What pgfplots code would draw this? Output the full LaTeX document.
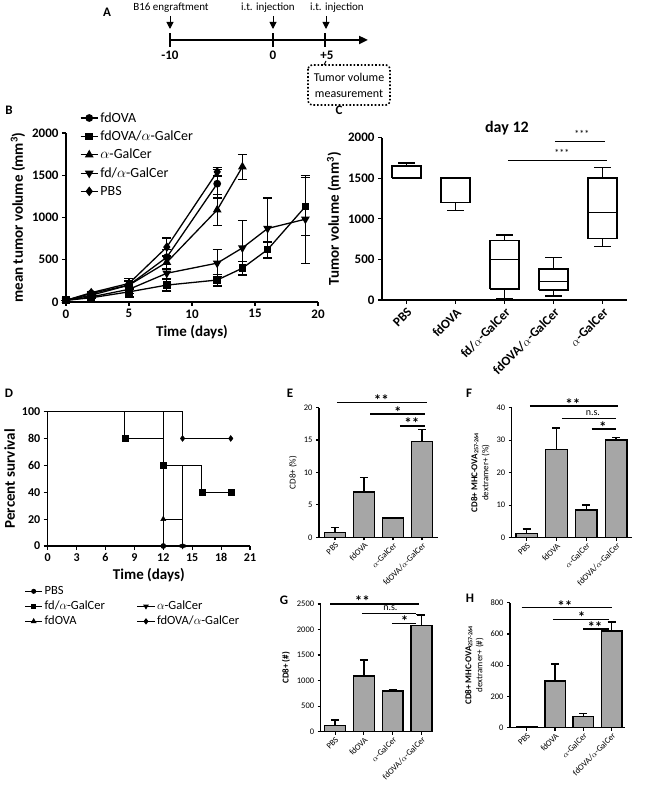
\documentclass[border=0pt]{standalone}
\usepackage{fontspec}
\setmainfont{Carlito}
\usepackage{pgfplots}
\pgfplotsset{compat=1.18}
\usetikzlibrary{arrows.meta}
\definecolor{bargray}{RGB}{166,166,166}
\newcommand{\ag}{\ensuremath{\alpha}-GalCer}
\tikzset{sig/.style={line width=1.4pt},
  star/.style={font=\bfseries\fontsize{15}{15}\selectfont, yshift=-2.5pt, inner sep=0pt}}

\pgfplotsset{
  gp/.style={
    scale only axis, clip=false,
    axis x line=bottom, axis y line=left,
    axis line style={-, line width=1.4pt},
    tick align=outside, major tick length=4pt,
    every tick/.append style={line width=1.2pt, black},
    /pgf/number format/assume math mode=true,
    /pgf/number format/1000 sep={},
    tick label style={font=\bfseries\fontsize{13}{13}\selectfont},
    label style={font=\bfseries\fontsize{15}{17}\selectfont},
  },
  barax/.style={
    gp, major tick length=3pt,
    axis line style={-, line width=1.2pt},
    tick label style={font=\fontsize{8.5}{8.5}\selectfont},
    xtick={1,2,3,4},
    xticklabels={PBS,fdOVA,\ag,fdOVA/\ag},
    x tick label style={rotate=45, anchor=north east, inner sep=1pt},
    ylabel style={font=\fontsize{9}{11}\selectfont, align=center},
    ymin=0,
  },
  bars/.style={ybar, bar width=0.72, fill=bargray, draw=black, line width=1.4pt,
    error bars/.cd, y dir=plus, y explicit,
    error bar style={line width=1.4pt},
    error mark options={rotate=90, mark size=4pt, line width=1.4pt}},
  berr/.style={error bars/.cd, y dir=both, y explicit,
    error bar style={line width=1.2pt},
    error mark options={rotate=90, mark size=4.5pt, line width=1.2pt}},
  bp/.style={draw=black, line width=1.6pt, line join=miter, mark=none},
}

\begin{document}
\begin{tikzpicture}[x=1pt,y=1pt]
\path[use as bounding box] (0,0) rectangle (648,798);

% ---------------- Panel A (timeline) ----------------
\node[font=\bfseries\fontsize{13}{13}\selectfont] at (107,786) {A};
\draw[line width=2.2pt, -{Triangle[length=9pt,width=8pt]}] (170,758) -- (368,758);
\foreach \xx in {170,273,325} {\draw[line width=1.5pt] (\xx,751) -- (\xx,765);}
\foreach \xx in {170,273,326} {\draw[line width=1pt, -{Triangle[length=7pt,width=7pt]}] (\xx,782) -- (\xx,769);}
\node[font=\bfseries\fontsize{13}{13}\selectfont] at (170,743) {-10};
\node[font=\bfseries\fontsize{13}{13}\selectfont] at (273,743) {0};
\node[font=\bfseries\fontsize{13}{13}\selectfont] at (327,743) {+5};
\node[font=\fontsize{11}{11}\selectfont] at (171,790) {B16 engraftment};
\node[font=\fontsize{11}{11}\selectfont] at (268,790) {i.t. injection};
\node[font=\fontsize{11}{11}\selectfont] at (337,790) {i.t. injection};
\draw[line width=1pt] (326,737) -- (324,733);
\draw[dotted, line width=1.6pt, rounded corners=4pt] (308,733) rectangle (390,693);
\node[align=center, font=\fontsize{12}{16}\selectfont] at (349,713) {Tumor volume\\measurement};

% ---------------- Panel labels ----------------
\node[font=\bfseries\fontsize{13}{13}\selectfont] at (9,688) {B};
\node[font=\bfseries\fontsize{13}{13}\selectfont] at (339,688) {C};
\node[font=\bfseries\fontsize{13}{13}\selectfont] at (9,405) {D};
\node[font=\bfseries\fontsize{13}{13}\selectfont] at (290,405) {E};
\node[font=\bfseries\fontsize{13}{13}\selectfont] at (469,405) {F};
\node[font=\bfseries\fontsize{13}{13}\selectfont] at (284,198) {G};
\node[font=\bfseries\fontsize{13}{13}\selectfont] at (470,200) {H};

% ---------------- Panel B ----------------
\begin{axis}[gp, at={(66pt,496pt)}, anchor=south west, width=252pt, height=169pt,
  xmin=0, xmax=20, ymin=0, ymax=2000,
  xtick={0,5,10,15,20}, ytick={0,500,1000,1500,2000},
  xlabel={Time (days)}, ylabel={mean tumor volume (mm\textsuperscript{3})},
  legend style={at={(0.055,1.135)}, anchor=north west, draw=none, fill=none,
    font=\fontsize{14}{14}\selectfont, row sep=3.2pt, inner sep=0pt},
  legend cell align=left]
\addplot[black, line width=1.3pt, mark=*, mark size=3.2pt, mark options={solid,fill=black}, berr]
  coordinates {(0,20)+-(0,0) (2,100)+-(0,15) (5,200)+-(0,50) (8,530)+-(0,90) (12,1400)+-(0,170)};
\addlegendentry{fdOVA}
\addplot[black, line width=1.3pt, mark=square*, mark size=3.2pt, mark options={solid,fill=black}, berr]
  coordinates {(0,20)+-(0,0) (2,50)+-(0,10) (5,120)+-(0,60) (8,200)+-(0,70) (12,260)+-(0,70) (14,400)+-(0,80) (16,620)+-(0,90) (19,1130)+-(0,340)};
\addlegendentry{fdOVA/\ag}
\addplot[black, line width=1.3pt, mark=triangle*, mark size=3.8pt, mark options={solid,fill=black}, berr]
  coordinates {(0,20)+-(0,0) (2,80)+-(0,10) (5,200)+-(0,40) (8,470)+-(0,80) (12,1090)+-(0,185) (14,1600)+-(0,150)};
\addlegendentry{\ag}
\addplot[black, line width=1.3pt, mark=triangle*, mark size=3.8pt, mark options={solid,fill=black,rotate=180}, berr]
  coordinates {(0,20)+-(0,0) (2,60)+-(0,10) (5,150)+-(0,50) (8,340)+-(0,60) (12,460)+-(0,160) (14,640)+-(0,320) (16,870)+-(0,360) (19,980)+-(0,520)};
\addlegendentry{fd/\ag}
\addplot[black, line width=1.3pt, mark=diamond*, mark size=3.8pt, mark options={solid,fill=black}, berr]
  coordinates {(0,20)+-(0,0) (2,110)+-(0,15) (5,220)+-(0,60) (8,650)+-(0,107) (12,1540)+-(0,50)};
\addlegendentry{PBS}
\end{axis}

% ---------------- Panel C ----------------
\begin{axis}[gp, at={(382pt,498pt)}, anchor=south west, width=245pt, height=162.3pt,
  xmin=0.5, xmax=5.5, ymin=0, ymax=2000,
  xtick={1,2,3,4,5}, ytick={0,500,1000,1500,2000},
  xticklabels={PBS,fdOVA,fd/\ag,fdOVA/\ag,\ag},
  x tick label style={rotate=45, anchor=north east, inner sep=2pt},
  ylabel={Tumor volume (mm\textsuperscript{3})}]
% PBS: lw 1500, q1 1500, med 1500, q3 1650, uw 1690
\addplot[bp] coordinates {(0.71,1500) (1.29,1500) (1.29,1650) (0.71,1650) (0.71,1500)};
\addplot[bp] coordinates {(1,1650) (1,1690)};
\addplot[bp] coordinates {(0.83,1690) (1.17,1690)};
% fdOVA: lw 1105, q1 1200, med 1500, q3 1505
\addplot[bp] coordinates {(1.71,1200) (2.29,1200) (2.29,1505) (1.71,1505) (1.71,1200)};
\addplot[bp] coordinates {(2,1200) (2,1105)};
\addplot[bp] coordinates {(1.83,1105) (2.17,1105)};
% fd/aGalCer: 16, 136, 501, 731, 801
\addplot[bp] coordinates {(2.71,136) (3.29,136) (3.29,731) (2.71,731) (2.71,136)};
\addplot[bp] coordinates {(2.71,501) (3.29,501)};
\addplot[bp] coordinates {(3,731) (3,801)};
\addplot[bp] coordinates {(2.83,801) (3.17,801)};
\addplot[bp] coordinates {(3,136) (3,16)};
\addplot[bp] coordinates {(2.83,16) (3.17,16)};
% fdOVA/aGalCer: 49, 123, 226, 382, 526
\addplot[bp] coordinates {(3.71,123) (4.29,123) (4.29,382) (3.71,382) (3.71,123)};
\addplot[bp] coordinates {(3.71,226) (4.29,226)};
\addplot[bp] coordinates {(4,382) (4,526)};
\addplot[bp] coordinates {(3.83,526) (4.17,526)};
\addplot[bp] coordinates {(4,123) (4,49)};
\addplot[bp] coordinates {(3.83,49) (4.17,49)};
% aGalCer: 657, 756, 1080, 1507, 1634
\addplot[bp] coordinates {(4.71,756) (5.29,756) (5.29,1507) (4.71,1507) (4.71,756)};
\addplot[bp] coordinates {(4.71,1080) (5.29,1080)};
\addplot[bp] coordinates {(5,1507) (5,1634)};
\addplot[bp] coordinates {(4.83,1634) (5.17,1634)};
\addplot[bp] coordinates {(5,756) (5,657)};
\addplot[bp] coordinates {(4.83,657) (5.17,657)};
\node[font=\bfseries\fontsize{16}{16}\selectfont] at (axis cs:3.05,2115) {day 12};
\draw[sig] (axis cs:4.03,1951) -- (axis cs:5.05,1951);
\node[font=\fontsize{10}{10}\selectfont] at (axis cs:4.58,2045) {***};
\draw[sig] (axis cs:3.07,1717) -- (axis cs:5.09,1717);
\node[font=\fontsize{10}{10}\selectfont] at (axis cs:4.17,1815) {***};
\end{axis}

% ---------------- Panel D ----------------
\begin{axis}[gp, at={(47.7pt,252pt)}, anchor=south west, width=202.3pt, height=134.4pt,
  xmin=0, xmax=21, ymin=0, ymax=100,
  xtick={0,3,...,21}, ytick={0,20,...,100},
  tick label style={font=\bfseries\fontsize{12}{12}\selectfont},
  xlabel={Time (days)}, ylabel={Percent survival},
  legend columns=2,
  legend style={at={(-0.115,-0.285)}, anchor=north west, draw=none, fill=none,
    font=\fontsize{12.5}{12.5}\selectfont, row sep=1pt, inner sep=0pt,
    /tikz/every even column/.append style={column sep=30pt}},
  legend cell align=left]
\addplot[black, line width=1pt, forget plot] coordinates {(0,100) (12,100) (12,0)};
\addplot[black, only marks, mark=*, mark size=2.6pt, forget plot] coordinates {(12,0)};
\addplot[black, line width=1pt, forget plot] coordinates {(0,100) (8,100) (8,80) (12,80) (12,60) (16,60) (16,40) (19,40)};
\addplot[black, only marks, mark=square*, mark size=3pt, forget plot] coordinates {(8,80) (12,60) (16,40) (19,40)};
\addplot[black, line width=1pt, forget plot] coordinates {(0,100) (12,100) (12,60) (14,60) (14,0)};
\addplot[black, only marks, mark=triangle*, mark size=3pt, mark options={rotate=180}, forget plot] coordinates {(14,0)};
\addplot[black, line width=1pt, forget plot] coordinates {(0,100) (12,100) (12,20) (14,20) (14,0)};
\addplot[black, only marks, mark=triangle*, mark size=3pt, forget plot] coordinates {(12,20) (14,0)};
\addplot[black, line width=1pt, forget plot] coordinates {(0,100) (14,100) (14,80) (19,80)};
\addplot[black, only marks, mark=diamond*, mark size=3pt, forget plot] coordinates {(14,80) (19,80)};
\addlegendimage{black, line width=1pt, mark=*, mark size=2pt}
\addlegendentry{PBS}
\addlegendimage{empty legend}
\addlegendentry{}
\addlegendimage{black, line width=1pt, mark=square*, mark size=2pt}
\addlegendentry{fd/\ag}
\addlegendimage{black, line width=1pt, mark=triangle*, mark size=2.4pt, mark options={rotate=180}}
\addlegendentry{\ag}
\addlegendimage{black, line width=1pt, mark=triangle*, mark size=2.4pt}
\addlegendentry{fdOVA}
\addlegendimage{black, line width=1pt, mark=diamond*, mark size=2.4pt}
\addlegendentry{fdOVA/\ag}
\end{axis}

% ---------------- Panel E ----------------
\begin{axis}[barax, at={(319pt,260.7pt)}, anchor=south west, width=119pt, height=129.6pt,
  xmin=0.45, xmax=4.55, ymax=20, ytick={0,5,10,15,20},
  ylabel={CD8+ (\%)}]
\addplot[bars] coordinates {(1,0.75)+-(0,0.75) (2,7.0)+-(0,2.2) (3,2.95)+-(0,0.05) (4,14.75)+-(0,1.85)};
\draw[sig] (axis cs:1.07,20.8) -- (axis cs:4.17,20.8);
\node[star] at (axis cs:2.6,21.6) {**};
\draw[sig] (axis cs:2.21,19.0) -- (axis cs:4.10,19.0);
\node[star] at (axis cs:3.17,19.7) {*};
\draw[sig] (axis cs:3.24,17.2) -- (axis cs:4.10,17.2);
\node[star] at (axis cs:3.65,18.0) {**};
\end{axis}

% ---------------- Panel F ----------------
\begin{axis}[barax, at={(511.7pt,260.3pt)}, anchor=south west, width=120pt, height=130pt,
  xmin=0.5, xmax=4.52, ymax=40, ytick={0,10,20,30,40},
  ylabel={\textbf{CD8+ MHC-OVA\textsubscript{257-264}}\\dextramer+ (\%)}]
\addplot[bars] coordinates {(1,1.35)+-(0,1.35) (2,27.2)+-(0,6.6) (3,8.5)+-(0,1.5) (4,30.1)+-(0,0.8)};
\draw[sig] (axis cs:1.11,40.5) -- (axis cs:4.05,40.5);
\node[star] at (axis cs:2.55,41.8) {**};
\draw[sig] (axis cs:2.18,36.7) -- (axis cs:4.01,36.7);
\node[font=\fontsize{10}{10}\selectfont] at (axis cs:3.22,38.4) {n.s.};
\draw[sig] (axis cs:3.18,33.4) -- (axis cs:4.01,33.4);
\node[star] at (axis cs:3.55,34.8) {*};
\end{axis}

% ---------------- Panel G ----------------
\begin{axis}[barax, at={(320.7pt,66.3pt)}, anchor=south west, width=112.3pt, height=127.7pt,
  xmin=0.5, xmax=4.4, ymax=2500, ytick={0,500,1000,1500,2000,2500},
  ylabel={\textbf{CD8+ (\#)}}]
\addplot[bars] coordinates {(1,118)+-(0,111) (2,1092)+-(0,313) (3,797)+-(0,34) (4,2078)+-(0,210)};
\draw[sig] (axis cs:0.84,2500) -- (axis cs:3.91,2500);
\node[star] at (axis cs:1.95,2605) {**};
\draw[sig] (axis cs:1.93,2318) -- (axis cs:3.82,2318);
\draw[sig] (axis cs:3.82,2290) -- (axis cs:4.1,2290);
\node[font=\fontsize{10}{10}\selectfont] at (axis cs:2.92,2420) {n.s.};
\draw[sig] (axis cs:2.97,2122) -- (axis cs:3.82,2122);
\node[star] at (axis cs:3.41,2215) {*};
\end{axis}

% ---------------- Panel H ----------------
\begin{axis}[barax, at={(510pt,70.3pt)}, anchor=south west, width=115pt, height=125pt,
  xmin=0.41, xmax=4.47, ymax=800, ytick={0,200,400,600,800},
  ylabel={\textbf{CD8+ MHC-OVA\textsubscript{257-264}}\\dextramer+ (\#)}]
\addplot[bars] coordinates {(1,4)+-(0,1) (2,299)+-(0,109) (3,70)+-(0,22) (4,619)+-(0,57)};
\draw[sig] (axis cs:0.82,768) -- (axis cs:4.0,768);
\node[star] at (axis cs:2.35,793) {**};
\draw[sig] (axis cs:1.92,694) -- (axis cs:3.91,694);
\node[star] at (axis cs:2.94,722) {*};
\draw[sig] (axis cs:2.99,632) -- (axis cs:3.91,632);
\node[star] at (axis cs:3.41,660) {**};
\end{axis}
\end{tikzpicture}
\end{document}
